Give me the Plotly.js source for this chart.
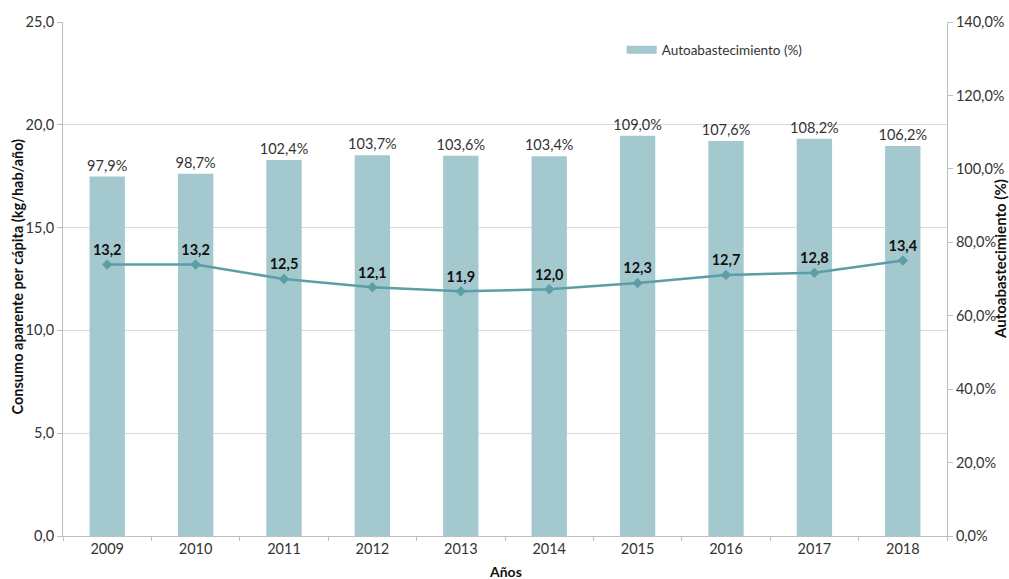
<!DOCTYPE html>
<html>
<head>
<meta charset="utf-8">
<script src="https://cdn.plot.ly/plotly-3.0.1.min.js"></script>
<style>html,body{margin:0;padding:0;background:#fff;}#chart{width:1009px;height:579px;}</style>
</head>
<body>
<div id="chart"></div>
<script>
const years = ["2009","2010","2011","2012","2013","2014","2015","2016","2017","2018"];
const autoabastecimiento = [97.9, 98.7, 102.4, 103.7, 103.6, 103.4, 109.0, 107.6, 108.2, 106.2];
const consumo = [13.2, 13.2, 12.5, 12.1, 11.9, 12.0, 12.3, 12.7, 12.8, 13.4];
const barName = "Autoabastecimiento (%)";
const leftTitle = "Consumo aparente per cápita (kg/hab/año)";
const rightTitle = "Autoabastecimiento (%)";
const xTitle = "Años";

const FONT = "Lato, 'Open Sans', sans-serif";
const barColor = "#A3C9CF";
const lineColor = "#5B9EA6";
const tickFont = {family: FONT, size: 14.5, color: "#333333"};

const traces = [
  {
    type: "bar", x: years, y: autoabastecimiento, yaxis: "y", name: barName,
    marker: {color: barColor}, width: 0.4, showlegend: false,
    texttemplate: "%{y:.1f}%", textposition: "outside", cliponaxis: false,
    constraintext: "none",
    textfont: {family: FONT, size: 14.5, color: "#333333"}, hoverinfo: "x+y"
  },
  {
    type: "scatter", x: [null], y: [null], yaxis: "y", name: barName,
    mode: "lines", line: {color: barColor, width: 8}, showlegend: true, hoverinfo: "skip"
  },
  {
    type: "scatter", x: years, y: consumo, yaxis: "y2", name: "Consumo",
    mode: "lines+markers+text", showlegend: false,
    line: {color: lineColor, width: 2.5},
    marker: {symbol: "diamond", size: 8, color: lineColor},
    texttemplate: "<b>%{y:.1f}</b>", textposition: "top center", cliponaxis: false,
    textfont: {family: FONT, size: 14.5, color: "#111111"}
  }
];

const layout = {
  width: 1009, height: 579,
  margin: {l: 63, r: 62, t: 22, b: 43, pad: 0},
  separators: ",.",
  paper_bgcolor: "#ffffff", plot_bgcolor: "#ffffff",
  font: {family: FONT, size: 13, color: "#333333"},
  xaxis: {
    type: "category", range: [-0.5, 9.5], autorange: false,
    showline: true, linecolor: "#BFBFBF", linewidth: 1,
    ticks: "outside", tickson: "boundaries", ticklen: 4, tickcolor: "#BFBFBF",
    showgrid: false, tickfont: tickFont
  },
  yaxis: {
    side: "right", range: [0, 140], dtick: 20, tickformat: ".1f", ticksuffix: "%",
    showgrid: false, zeroline: false, showline: true, linecolor: "#BFBFBF",
    ticks: "outside", ticklen: 5, tickcolor: "#BFBFBF", tickfont: tickFont
  },
  yaxis2: {
    overlaying: "y", side: "left", range: [0, 25], dtick: 5, tickformat: ".1f",
    showgrid: true, gridcolor: "#D9D9D9", gridwidth: 1, zeroline: false,
    showline: true, linecolor: "#BFBFBF", ticks: "outside", ticklen: 5, tickcolor: "#BFBFBF",
    tickfont: tickFont
  },
  legend: {
    x: 0.632, y: 0.9455, xanchor: "left", yanchor: "middle",
    bgcolor: "rgba(0,0,0,0)", font: {family: FONT, size: 13.5, color: "#333333"}
  },
  annotations: [
    {text: "<b>" + leftTitle + "</b>", textangle: -90, xref: "paper", yref: "paper",
     x: -0.052, y: 0.505, xanchor: "center", yanchor: "middle", showarrow: false,
     font: {family: FONT, size: 14.5, color: "#111111"}},
    {text: "<b>" + rightTitle + "</b>", textangle: -90, xref: "paper", yref: "paper",
     x: 1.06, y: 0.539, xanchor: "center", yanchor: "middle", showarrow: false,
     font: {family: FONT, size: 15, color: "#111111"}},
    {text: "<b>" + xTitle + "</b>", xref: "paper", yref: "paper",
     x: (505 - 63) / 884, y: -0.07, xanchor: "center", yanchor: "middle", showarrow: false,
     font: {family: FONT, size: 14, color: "#111111"}}
  ]
};

Plotly.newPlot("chart", traces, layout, {displayModeBar: false, responsive: false});
</script>
</body>
</html>
